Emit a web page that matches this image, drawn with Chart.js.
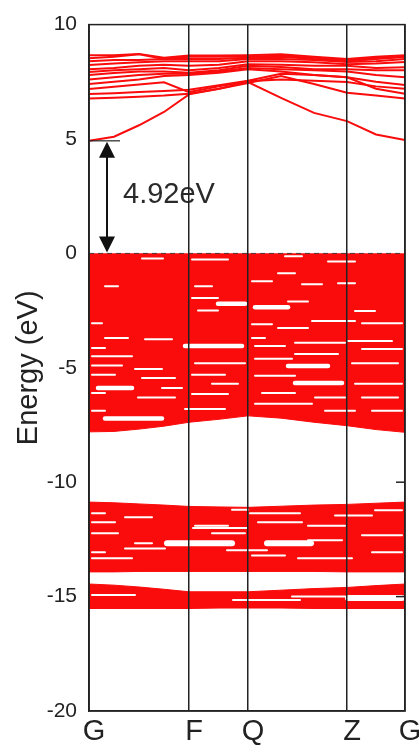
<!DOCTYPE html>
<html>
<head>
<meta charset="utf-8">
<script src="https://cdn.jsdelivr.net/npm/chart.js@4.4.0/dist/chart.umd.min.js"></script>
<style>
  html, body { margin: 0; padding: 0; background: #fff; }
  #wrap { width: 419px; height: 745px; }
</style>
</head>
<body>
<div id="wrap"><canvas id="bands"></canvas></div>
<script>
// k-path positions (arbitrary units along G-F-Q-Z-G)
const kPath = [0, 25, 50, 75, 100, 130, 159, 192, 225, 258, 287, 316];
const kTicks = [0, 100, 159, 258, 316];
const kLabels = ['G', 'F', 'Q', 'Z', 'G'];
const energyTicks = [10, 5, 0, -5, -10, -15, -20];

// conduction bands (eV) at each kPath point
const conductionBands = [
    [4.92, 5.10, 5.60, 6.18, 6.95, 7.20, 7.49, 6.80, 6.14, 5.78, 5.20, 4.96],
    [6.77, 6.80, 6.85, 6.90, 6.98, 7.20, 7.45, 7.75, 7.40, 7.02, 6.90, 6.77],
    [6.97, 7.00, 7.05, 7.10, 7.15, 7.35, 7.55, 7.85, 7.80, 7.70, 7.20, 6.98],
    [7.18, 7.28, 7.38, 7.48, 7.05, 7.30, 7.52, 7.60, 7.55, 7.49, 7.30, 7.20],
    [7.40, 7.50, 7.60, 7.75, 7.80, 7.90, 8.05, 7.95, 7.80, 7.70, 7.50, 7.36],
    [7.60, 7.70, 7.80, 7.85, 7.85, 7.95, 8.10, 8.05, 8.00, 7.95, 7.80, 7.70],
    [7.80, 7.88, 7.95, 7.95, 7.90, 8.00, 8.20, 8.15, 8.05, 8.05, 8.00, 8.00],
    [7.93, 8.00, 8.05, 8.10, 8.00, 8.10, 8.27, 8.25, 8.20, 8.20, 8.10, 8.14],
    [8.05, 8.10, 8.20, 8.25, 8.20, 8.25, 8.40, 8.40, 8.35, 8.27, 8.30, 8.36],
    [8.23, 8.30, 8.35, 8.40, 8.40, 8.40, 8.50, 8.50, 8.45, 8.36, 8.40, 8.50],
    [8.40, 8.45, 8.45, 8.50, 8.50, 8.50, 8.55, 8.60, 8.50, 8.40, 8.50, 8.58],
    [8.53, 8.60, 8.70, 8.50, 8.60, 8.60, 8.60, 8.65, 8.55, 8.45, 8.55, 8.60],
    [8.66, 8.66, 8.72, 8.55, 8.65, 8.65, 8.66, 8.70, 8.60, 8.50, 8.60, 8.66]
];

// dense band blocks: upper / lower edge at each kPath point
const valenceTop     = [-0.02, -0.02, -0.02, -0.02, -0.02, -0.02, -0.02, -0.02, -0.02, -0.02, -0.02, -0.02];
const valenceBottom  = [-7.80, -7.78, -7.68, -7.55, -7.38, -7.25, -7.10, -7.20, -7.38, -7.53, -7.70, -7.82];
const semicoreTop    = [-10.87, -10.90, -10.95, -11.00, -11.06, -11.08, -11.10, -11.05, -11.00, -10.97, -10.92, -10.87];
const semicoreBottom = [-13.92, -13.92, -13.90, -13.90, -13.90, -13.90, -13.90, -13.90, -13.90, -13.92, -13.92, -13.92];
const deepTop        = [-14.45, -14.50, -14.58, -14.68, -14.79, -14.79, -14.79, -14.72, -14.65, -14.60, -14.52, -14.45];
const deepBottom     = [-15.52, -15.52, -15.52, -15.52, -15.52, -15.50, -15.50, -15.50, -15.52, -15.52, -15.52, -15.52];

// openings between bands inside the dense blocks: [kStart, kEnd, energy]
const valenceGaps = [
    [53,74,-0.22],[103,139,-0.27],[16,29,-1.44],[106,123,-1.44],[103,129,-1.95],[109,129,-2.5],
    [3,13,-3.05],[16,39,-3.7],[56,83,-3.75],[3,16,-4.13],[3,43,-4.5],[106,156,-4.8],[3,33,-4.9],
    [46,73,-5.05],[3,26,-5.3],[53,86,-5.45],[103,136,-5.3],[73,93,-5.88],[123,149,-5.7],[3,16,-6.1],
    [49,86,-6.3],[103,139,-6.14],[3,16,-6.88],[96,136,-6.8],
    [196,213,-0.13],[239,266,-0.35],[189,206,-0.87],[163,183,-1.22],[213,233,-1.35],[249,266,-1.3],
    [199,219,-2.1],[266,286,-2.52],[223,266,-2.96],[273,313,-3.05],[163,183,-3.1],[189,219,-3.26],
    [163,176,-3.7],[206,256,-3.9],[259,303,-3.83],[166,196,-4.05],[273,313,-4.18],[206,249,-4.4],
    [166,203,-4.6],[263,309,-4.8],[266,313,-5.7],[166,206,-5.35],[173,206,-6.1],[226,256,-6.3],
    [273,309,-6.3],[166,223,-6.57],[236,266,-6.88],[283,313,-6.88]
];
const valenceGapsWide = [
    [129,156,-2.2],[96,153,-4.05],[9,43,-5.88],[16,73,-7.22],[166,199,-2.35],[199,239,-4.92],[206,253,-5.66]
];
const lowerGaps = [
    [3,16,-11.36],[36,63,-11.53],[3,26,-11.75],[3,29,-12.23],[46,63,-12.67],[3,16,-13.06],[36,76,-12.9],
    [3,43,-13.32],[106,139,-11.9],[123,156,-12.23],[143,159,-11.2],[104,158,-12.0],[161,211,-11.36],
    [138,178,-12.97],[246,283,-11.45],[286,313,-11.23],[169,213,-11.75],[219,256,-11.9],[219,253,-12.54],
    [273,313,-12.32],[283,313,-13.06],[209,263,-13.32],[163,196,-13.2],
    [3,46,-14.93],[203,256,-15.0],[144,211,-15.15]
];
const lowerGapsWide = [
    [78,143,-12.67],[178,222,-12.67],[259,313,-15.06]
];

// band gap annotation
const gapValue = 4.92;
const arrowK = 18;
const gapMarkEnd = 31;
const labelK = 34;
const labelE = 2.57;
const rightTicks = [-10, -15];

const RED = 'rgb(250,12,12)';

function onPath(values) {
    return values.map((e, i) => ({ x: kPath[i], y: e }));
}

function bandLine(values) {
    return {
        data: onPath(values),
        borderColor: RED,
        borderWidth: 2,
        pointRadius: 0,
        fill: false,
        order: 2
    };
}

function gapLine(gap, width) {
    return {
        data: [{ x: gap[0], y: gap[2] }, { x: gap[1], y: gap[2] }],
        borderColor: '#fff',
        borderWidth: width,
        borderCapStyle: 'round',
        pointRadius: 0,
        fill: false,
        order: 1
    };
}

const datasets = [];

[[valenceTop, valenceBottom], [semicoreTop, semicoreBottom], [deepTop, deepBottom]].forEach((pair) => {
    datasets.push({
        data: onPath(pair[0]), borderColor: RED, borderWidth: 1, pointRadius: 0, fill: false, order: 3
    });
    datasets.push({
        data: onPath(pair[1]), borderColor: RED, borderWidth: 1, pointRadius: 0,
        fill: '-1', backgroundColor: RED, order: 3
    });
});

conductionBands.forEach((band) => datasets.push(bandLine(band)));
valenceGaps.forEach((g) => datasets.push(gapLine(g, 2)));
lowerGaps.forEach((g) => datasets.push(gapLine(g, 2)));
valenceGapsWide.forEach((g) => datasets.push(gapLine(g, 4.5)));
lowerGapsWide.forEach((g) => datasets.push(gapLine(g, 6)));

// Fermi level
datasets.push({
    data: [{ x: kTicks[0], y: 0 }, { x: kTicks[kTicks.length - 1], y: 0 }],
    borderColor: 'rgba(50,50,50,0.85)',
    borderWidth: 1,
    borderDash: [5, 4],
    pointRadius: 0,
    fill: false,
    order: 0
});

const annotatePlugin = {
    id: 'annotate',
    afterDatasetsDraw(chart) {
        const { ctx, chartArea: a, scales: { x, y } } = chart;
        ctx.save();
        ctx.strokeStyle = '#222';
        ctx.lineWidth = 1.5;
        ctx.strokeRect(a.left, a.top, a.right - a.left, a.bottom - a.top);

        rightTicks.forEach((v) => {
            const py = y.getPixelForValue(v);
            ctx.beginPath();
            ctx.moveTo(a.right, py);
            ctx.lineTo(a.right - 9, py);
            ctx.stroke();
        });

        const ax = x.getPixelForValue(arrowK);
        const yTop = y.getPixelForValue(gapValue);
        const yBot = y.getPixelForValue(0);

        ctx.lineWidth = 1.2;
        ctx.beginPath();
        ctx.moveTo(a.left, yTop);
        ctx.lineTo(x.getPixelForValue(gapMarkEnd), yTop);
        ctx.stroke();

        ctx.strokeStyle = '#111';
        ctx.lineWidth = 2;
        ctx.beginPath();
        ctx.moveTo(ax, yTop + 12);
        ctx.lineTo(ax, yBot - 12);
        ctx.stroke();

        ctx.fillStyle = '#111';
        ctx.beginPath();
        ctx.moveTo(ax, yTop + 1);
        ctx.lineTo(ax - 8, yTop + 17);
        ctx.lineTo(ax + 8, yTop + 17);
        ctx.closePath();
        ctx.fill();
        ctx.beginPath();
        ctx.moveTo(ax, yBot - 1);
        ctx.lineTo(ax - 8, yBot - 17);
        ctx.lineTo(ax + 8, yBot - 17);
        ctx.closePath();
        ctx.fill();

        ctx.fillStyle = '#2a2a2a';
        ctx.font = '29px Arial, "Liberation Sans", sans-serif';
        ctx.textAlign = 'left';
        ctx.textBaseline = 'middle';
        ctx.fillText(gapValue.toFixed(2) + 'eV', x.getPixelForValue(labelK), y.getPixelForValue(labelE));
        ctx.restore();
    }
};

const FONT = 'Arial, "Liberation Sans", sans-serif';

new Chart(document.getElementById('bands'), {
    type: 'line',
    data: { datasets: datasets },
    plugins: [annotatePlugin],
    options: {
        responsive: true,
        maintainAspectRatio: false,
        animation: false,
        layout: { padding: { top: 22, right: 14, left: 0, bottom: 0 } },
        plugins: { legend: { display: false }, tooltip: { enabled: false } },
        elements: { line: { tension: 0 } },
        scales: {
            x: {
                type: 'linear',
                min: 0,
                max: 316,
                afterBuildTicks: (s) => { s.ticks = kTicks.map((v) => ({ value: v })); },
                afterFit: (s) => { s.height = 34; s.paddingRight = 0; },
                ticks: {
                    callback: (v) => kLabels[kTicks.indexOf(v)],
                    font: { family: FONT, size: 29, lineHeight: 1 },
                    color: '#222',
                    padding: 6,
                    labelOffset: 5,
                    maxRotation: 0,
                    autoSkip: false
                },
                grid: { color: '#222', lineWidth: 1.5, drawTicks: false, z: 1 },
                border: { color: '#222', width: 1.5, z: 1 }
            },
            y: {
                min: -20,
                max: 10,
                afterBuildTicks: (s) => { s.ticks = energyTicks.map((v) => ({ value: v })); },
                afterFit: (s) => { s.width = 89; },
                ticks: { font: { family: FONT, size: 21 }, color: '#222', padding: 12 },
                grid: { display: false, drawTicks: false },
                border: { color: '#222', width: 1.5, z: 1 },
                title: {
                    display: true,
                    text: 'Energy (eV)',
                    font: { family: FONT, size: 29, lineHeight: 1 },
                    color: '#222',
                    padding: { top: 14, bottom: 0 }
                }
            }
        }
    }
});
</script>
</body>
</html>
